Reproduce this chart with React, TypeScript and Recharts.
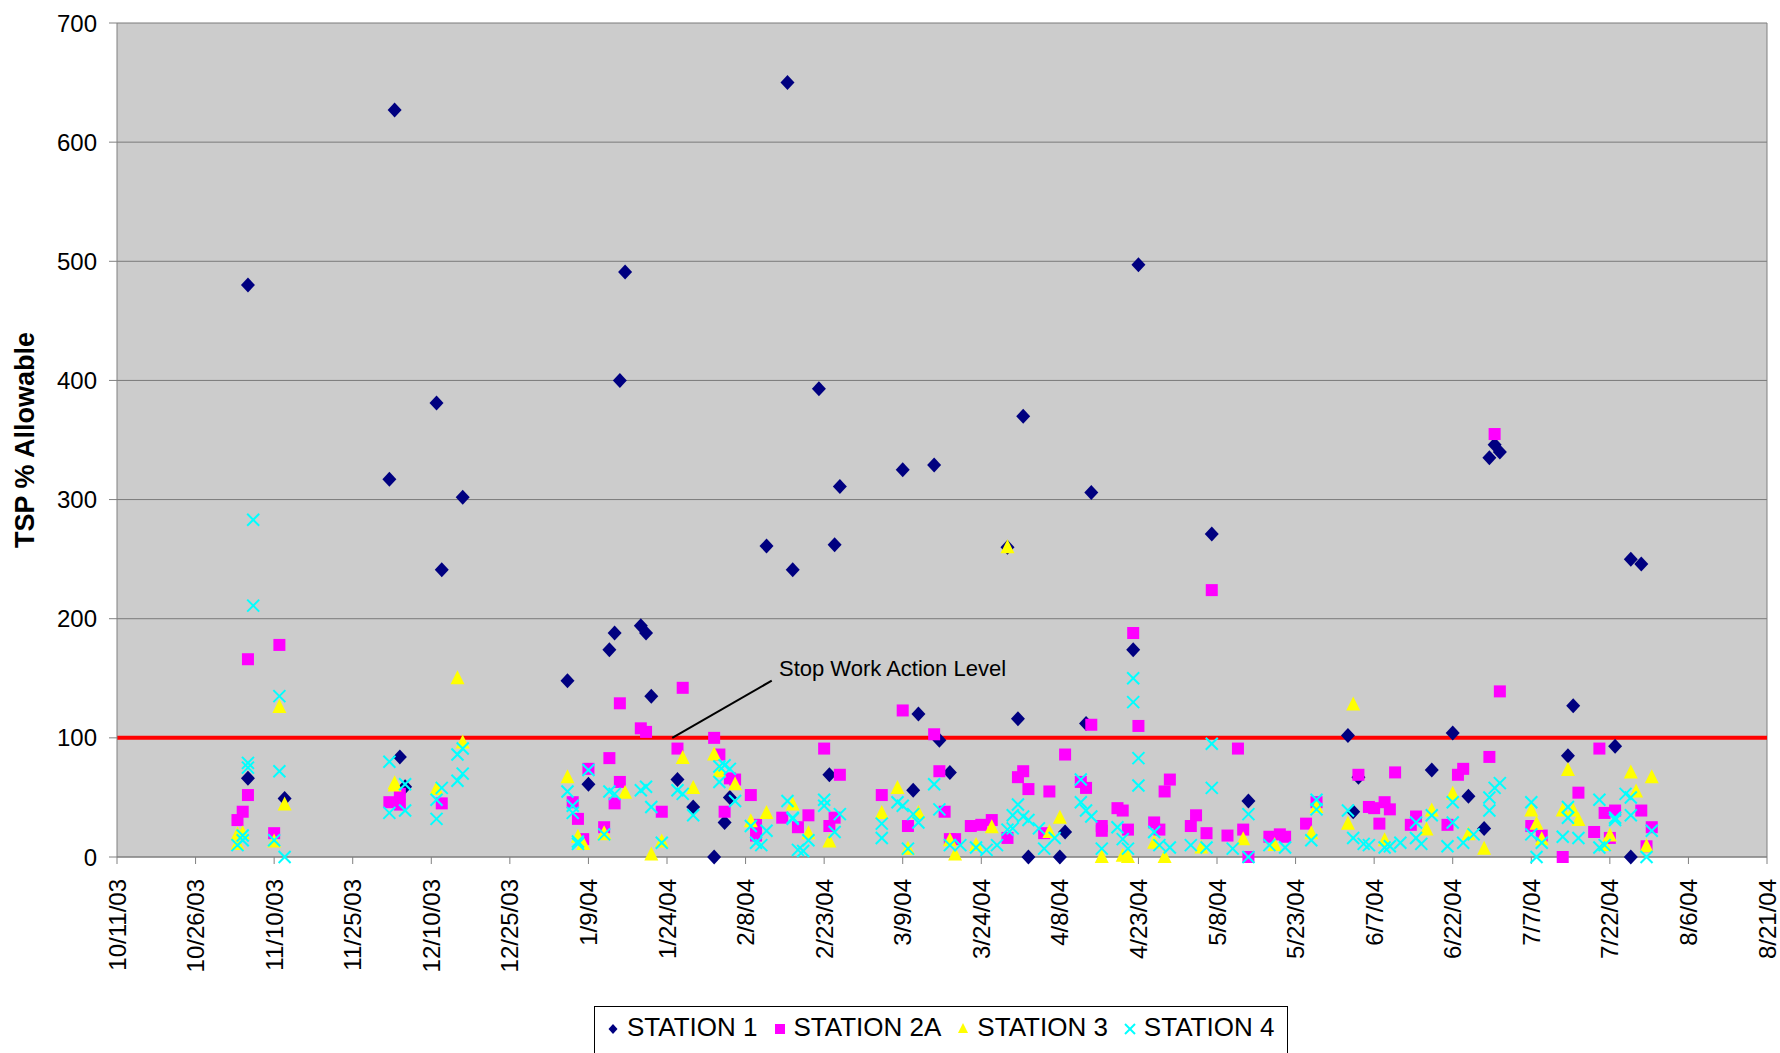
import React from 'react';
import {
  ScatterChart,
  Scatter,
  XAxis,
  YAxis,
  CartesianGrid,
  ReferenceLine,
  ReferenceDot,
  Label,
} from 'recharts';

type Reading = [string, number];

// x axis tick dates (every 15 days)
const xTickLabels = [
  '10/11/03', '10/26/03', '11/10/03', '11/25/03', '12/10/03', '12/25/03', '1/9/04', '1/24/04',
  '2/8/04', '2/23/04', '3/9/04', '3/24/04', '4/8/04', '4/23/04', '5/8/04', '5/23/04',
  '6/7/04', '6/22/04', '7/7/04', '7/22/04', '8/6/04', '8/21/04',
];
const yTicks = [0, 100, 200, 300, 400, 500, 600, 700];
const actionLevel = 100;

const station1: Reading[] = [
  ['11/5/03', 480], ['11/5/03', 66], ['11/12/03', 49], ['12/2/03', 317], ['12/3/03', 627],
  ['12/4/03', 84], ['12/5/03', 59], ['12/11/03', 381], ['12/12/03', 241], ['12/16/03', 302],
  ['1/5/04', 148], ['1/9/04', 61], ['1/13/04', 174], ['1/14/04', 188], ['1/15/04', 400],
  ['1/16/04', 491], ['1/19/04', 194], ['1/20/04', 188], ['1/21/04', 135], ['1/26/04', 65],
  ['1/29/04', 42], ['2/2/04', 0], ['2/4/04', 29], ['2/5/04', 50], ['2/12/04', 261],
  ['2/16/04', 650], ['2/17/04', 241], ['2/22/04', 393], ['2/24/04', 69], ['2/25/04', 262],
  ['2/26/04', 311], ['3/9/04', 325], ['3/11/04', 56], ['3/12/04', 120], ['3/15/04', 329],
  ['3/16/04', 98], ['3/18/04', 71], ['3/29/04', 260], ['3/31/04', 116], ['4/1/04', 370],
  ['4/2/04', 0], ['4/8/04', 0], ['4/9/04', 21], ['4/13/04', 112], ['4/14/04', 306],
  ['4/22/04', 174], ['4/23/04', 497], ['5/7/04', 271], ['5/14/04', 47], ['6/2/04', 102],
  ['6/3/04', 38], ['6/4/04', 67], ['6/18/04', 73], ['6/22/04', 104], ['6/25/04', 51],
  ['6/28/04', 24], ['6/29/04', 335], ['6/30/04', 346], ['7/1/04', 340], ['7/14/04', 85],
  ['7/15/04', 127], ['7/23/04', 93], ['7/26/04', 250], ['7/26/04', 0], ['7/28/04', 246],
];

const station2A: Reading[] = [
  ['11/3/03', 31], ['11/4/03', 38], ['11/5/03', 52], ['11/5/03', 166], ['11/10/03', 20],
  ['11/11/03', 178], ['12/2/03', 46], ['12/4/03', 44], ['12/4/03', 53], ['12/12/03', 45],
  ['1/6/04', 46], ['1/7/04', 32], ['1/8/04', 15], ['1/9/04', 74], ['1/12/04', 25],
  ['1/13/04', 83], ['1/14/04', 45], ['1/15/04', 129], ['1/15/04', 63], ['1/19/04', 108],
  ['1/20/04', 105], ['1/23/04', 38], ['1/26/04', 91], ['1/27/04', 142], ['2/2/04', 100],
  ['2/3/04', 86], ['2/4/04', 38], ['2/5/04', 66], ['2/6/04', 65], ['2/9/04', 52],
  ['2/10/04', 27], ['2/10/04', 18], ['2/15/04', 33], ['2/18/04', 25], ['2/20/04', 35],
  ['2/23/04', 91], ['2/24/04', 26], ['2/25/04', 33], ['2/26/04', 69], ['3/5/04', 52],
  ['3/9/04', 123], ['3/10/04', 26], ['3/15/04', 103], ['3/16/04', 72], ['3/17/04', 38],
  ['3/18/04', 15], ['3/19/04', 15], ['3/22/04', 26], ['3/24/04', 27], ['3/26/04', 31],
  ['3/29/04', 16], ['3/31/04', 67], ['4/1/04', 72], ['4/2/04', 57], ['4/5/04', 20],
  ['4/6/04', 55], ['4/9/04', 86], ['4/12/04', 63], ['4/13/04', 58], ['4/14/04', 111],
  ['4/16/04', 26], ['4/16/04', 22], ['4/19/04', 41], ['4/20/04', 39], ['4/21/04', 23],
  ['4/22/04', 188], ['4/23/04', 110], ['4/26/04', 29], ['4/27/04', 23], ['4/28/04', 55],
  ['4/29/04', 65], ['5/3/04', 26], ['5/4/04', 35], ['5/6/04', 20], ['5/7/04', 224],
  ['5/10/04', 18], ['5/12/04', 91], ['5/13/04', 23], ['5/14/04', 0], ['5/18/04', 17],
  ['5/20/04', 19], ['5/21/04', 17], ['5/25/04', 28], ['5/27/04', 46], ['6/4/04', 69],
  ['6/6/04', 42], ['6/7/04', 41], ['6/8/04', 28], ['6/9/04', 46], ['6/10/04', 40],
  ['6/11/04', 71], ['6/14/04', 27], ['6/15/04', 34], ['6/21/04', 27], ['6/23/04', 69],
  ['6/24/04', 74], ['6/29/04', 84], ['6/30/04', 355], ['7/1/04', 139], ['7/7/04', 26],
  ['7/9/04', 18], ['7/13/04', 0], ['7/16/04', 54], ['7/19/04', 21], ['7/20/04', 91],
  ['7/21/04', 37], ['7/22/04', 16], ['7/23/04', 39], ['7/28/04', 39], ['7/29/04', 9],
  ['7/30/04', 25],
];

const station3: Reading[] = [
  ['11/3/03', 19], ['11/3/03', 11], ['11/4/03', 20], ['11/10/03', 13], ['11/11/03', 126],
  ['11/12/03', 44], ['12/3/03', 62], ['12/3/03', 60], ['12/11/03', 57], ['12/15/03', 150],
  ['12/16/03', 96], ['1/5/04', 67], ['1/7/04', 17], ['1/8/04', 11], ['1/12/04', 20],
  ['1/12/04', 19], ['1/16/04', 54], ['1/21/04', 2], ['1/23/04', 13], ['1/27/04', 83],
  ['1/29/04', 58], ['2/2/04', 86], ['2/3/04', 72], ['2/6/04', 61], ['2/9/04', 30],
  ['2/12/04', 37], ['2/17/04', 44], ['2/20/04', 20], ['2/24/04', 13], ['3/5/04', 37],
  ['3/8/04', 58], ['3/10/04', 7], ['3/12/04', 37], ['3/18/04', 14], ['3/19/04', 2],
  ['3/23/04', 10], ['3/26/04', 25], ['3/29/04', 260], ['4/6/04', 21], ['4/8/04', 33],
  ['4/16/04', 0], ['4/20/04', 1], ['4/21/04', 0], ['4/26/04', 12], ['4/28/04', 0],
  ['5/5/04', 8], ['5/13/04', 15], ['5/19/04', 10], ['5/26/04', 20], ['5/27/04', 42],
  ['6/2/04', 28], ['6/3/04', 128], ['6/9/04', 14], ['6/17/04', 23], ['6/18/04', 39],
  ['6/22/04', 53], ['6/25/04', 19], ['6/28/04', 7], ['7/7/04', 39], ['7/8/04', 28],
  ['7/9/04', 15], ['7/13/04', 39], ['7/14/04', 73], ['7/15/04', 39], ['7/16/04', 31],
  ['7/21/04', 10], ['7/22/04', 18], ['7/26/04', 71], ['7/27/04', 55], ['7/29/04', 9],
  ['7/30/04', 67],
];

const station4: Reading[] = [
  ['11/3/03', 10], ['11/4/03', 18], ['11/4/03', 14], ['11/5/03', 79], ['11/5/03', 75],
  ['11/6/03', 283], ['11/6/03', 211], ['11/10/03', 14], ['11/11/03', 135], ['11/11/03', 72],
  ['11/12/03', 0], ['12/2/03', 80], ['12/2/03', 37], ['12/5/03', 61], ['12/5/03', 39],
  ['12/11/03', 32], ['12/11/03', 48], ['12/12/03', 58], ['12/15/03', 86], ['12/15/03', 64],
  ['12/16/03', 91], ['12/16/03', 70], ['1/5/04', 55], ['1/6/04', 37], ['1/6/04', 43],
  ['1/7/04', 13], ['1/7/04', 11], ['1/9/04', 73], ['1/12/04', 19], ['1/13/04', 55],
  ['1/14/04', 53], ['1/19/04', 56], ['1/20/04', 59], ['1/21/04', 42], ['1/23/04', 12],
  ['1/26/04', 56], ['1/27/04', 53], ['1/29/04', 35], ['2/3/04', 76], ['2/3/04', 63],
  ['2/4/04', 77], ['2/5/04', 74], ['2/6/04', 47], ['2/9/04', 26], ['2/10/04', 12],
  ['2/11/04', 10], ['2/12/04', 22], ['2/16/04', 47], ['2/17/04', 33], ['2/17/04', 32],
  ['2/18/04', 6], ['2/19/04', 5], ['2/20/04', 14], ['2/23/04', 48], ['2/23/04', 43],
  ['2/25/04', 21], ['2/26/04', 36], ['3/5/04', 28], ['3/5/04', 16], ['3/8/04', 46],
  ['3/9/04', 43], ['3/10/04', 7], ['3/11/04', 36], ['3/12/04', 29], ['3/15/04', 61],
  ['3/16/04', 40], ['3/18/04', 10], ['3/20/04', 10], ['3/23/04', 8], ['3/25/04', 6],
  ['3/27/04', 10], ['3/29/04', 23], ['3/30/04', 35], ['3/30/04', 24], ['3/31/04', 44],
  ['4/1/04', 34], ['4/2/04', 31], ['4/4/04', 24], ['4/5/04', 7], ['4/7/04', 16],
  ['4/12/04', 65], ['4/12/04', 46], ['4/13/04', 39], ['4/14/04', 34], ['4/16/04', 7],
  ['4/19/04', 25], ['4/20/04', 15], ['4/21/04', 7], ['4/22/04', 150], ['4/22/04', 130],
  ['4/23/04', 83], ['4/23/04', 60], ['4/26/04', 21], ['4/27/04', 10], ['4/29/04', 8],
  ['5/3/04', 10], ['5/6/04', 8], ['5/7/04', 95], ['5/7/04', 58], ['5/11/04', 7],
  ['5/14/04', 0], ['5/14/04', 36], ['5/18/04', 10], ['5/21/04', 8], ['5/26/04', 14],
  ['5/27/04', 48], ['5/27/04', 40], ['6/2/04', 39], ['6/3/04', 16], ['6/5/04', 11],
  ['6/6/04', 10], ['6/9/04', 8], ['6/10/04', 9], ['6/12/04', 12], ['6/15/04', 29],
  ['6/15/04', 16], ['6/16/04', 11], ['6/18/04', 35], ['6/21/04', 9], ['6/22/04', 46],
  ['6/22/04', 29], ['6/24/04', 12], ['6/26/04', 19], ['6/29/04', 50], ['6/29/04', 39],
  ['6/30/04', 58], ['7/1/04', 62], ['7/7/04', 46], ['7/7/04', 19], ['7/8/04', 0],
  ['7/9/04', 12], ['7/13/04', 17], ['7/14/04', 42], ['7/14/04', 33], ['7/16/04', 16],
  ['7/20/04', 48], ['7/20/04', 8], ['7/21/04', 10], ['7/23/04', 33], ['7/23/04', 31],
  ['7/25/04', 53], ['7/26/04', 50], ['7/26/04', 35], ['7/29/04', 0], ['7/30/04', 22],
];

const FONT = '"Liberation Sans", Arial, Helvetica, sans-serif';

const parseDate = (s: string) => {
  const [m, d, y] = s.split('/').map(Number);
  return Date.UTC(2000 + y, m - 1, d);
};

const formatDate = (t: number) => {
  const d = new Date(t);
  return `${d.getUTCMonth() + 1}/${d.getUTCDate()}/${String(d.getUTCFullYear()).slice(2)}`;
};

const toPoints = (rows: Reading[]) => rows.map(([date, value]) => ({ x: parseDate(date), y: value }));

const xTicks = xTickLabels.map(parseDate);
const xMin = xTicks[0];
const xMax = xTicks[xTicks.length - 1];

// marker shapes, same look as the old spreadsheet chart
const Diamond = ({ cx, cy, s = 7.5 }: any) => (
  <polygon points={`${cx},${cy - s} ${cx + s - 0.5},${cy} ${cx},${cy + s} ${cx - s + 0.5},${cy}`} fill="#000080" />
);
const Square = ({ cx, cy, s = 6 }: any) => (
  <rect x={cx - s} y={cy - s} width={s * 2} height={s * 2} fill="#FF00FF" />
);
const Triangle = ({ cx, cy, s = 7 }: any) => (
  <polygon points={`${cx},${cy - s - 1} ${cx + s},${cy + s - 1} ${cx - s},${cy + s - 1}`} fill="#FFFF00" />
);
const Cross = ({ cx, cy, s = 6 }: any) => (
  <g stroke="#00FFFF" strokeWidth={2}>
    <line x1={cx - s} y1={cy - s} x2={cx + s} y2={cy + s} />
    <line x1={cx - s} y1={cy + s} x2={cx + s} y2={cy - s} />
  </g>
);

const series = [
  { name: 'STATION 1', data: station1, Shape: Diamond },
  { name: 'STATION 2A', data: station2A, Shape: Square },
  { name: 'STATION 3', data: station3, Shape: Triangle },
  { name: 'STATION 4', data: station4, Shape: Cross },
];

const DateTick = ({ x, y, payload }: any) => (
  <text
    x={x}
    y={y + 13}
    transform={`rotate(-90, ${x}, ${y + 13})`}
    textAnchor="end"
    dominantBaseline="central"
    fontSize={24}
    fontFamily={FONT}
    fill="#000"
  >
    {formatDate(payload.value)}
  </text>
);

const YTitle = ({ viewBox }: any) => {
  const cx = viewBox.x + 25;
  const cy = viewBox.y + viewBox.height / 2;
  return (
    <text
      x={cx}
      y={cy}
      transform={`rotate(-90, ${cx}, ${cy})`}
      textAnchor="middle"
      dominantBaseline="central"
      fontSize={27}
      fontWeight="bold"
      fontFamily={FONT}
      fill="#000"
    >
      TSP % Allowable
    </text>
  );
};

const ActionText = ({ cx, cy }: any) => (
  <text x={cx + 2} y={cy} dominantBaseline="central" fontSize={22} fontFamily={FONT} fill="#000">
    Stop Work Action Level
  </text>
);

export default function App() {
  return (
    <div
      style={{
        position: 'absolute',
        left: 0,
        top: 0,
        width: 1780,
        height: 1053,
        overflow: 'hidden',
        background: '#fff',
        fontFamily: FONT,
      }}
    >
      <ScatterChart width={1780} height={1053} margin={{ top: 23, right: 13, left: 0, bottom: 0 }}>
        <CartesianGrid horizontal vertical={false} stroke="#7a7a7a" fill="#CCCCCC" fillOpacity={1} />
        <XAxis
          type="number"
          dataKey="x"
          domain={[xMin, xMax]}
          ticks={xTicks}
          interval={0}
          height={196}
          tick={<DateTick />}
          tickSize={7}
          stroke="#808080"
          allowDataOverflow
        />
        <YAxis
          type="number"
          dataKey="y"
          domain={[0, 700]}
          ticks={yTicks}
          width={117}
          tickSize={8}
          tickMargin={12}
          stroke="#808080"
          tick={{ fill: '#000', fontSize: 24, fontFamily: FONT }}
        >
          <Label content={<YTitle />} />
        </YAxis>
        <ReferenceLine x={xMax} stroke="#808080" />
        {series.map(({ name, data, Shape }) => (
          <Scatter
            key={name}
            name={name}
            data={toPoints(data)}
            shape={(p: any) => <Shape cx={p.cx} cy={p.cy} />}
            isAnimationActive={false}
          />
        ))}
        <ReferenceLine y={actionLevel} stroke="#FF0000" strokeWidth={4} />
        <ReferenceLine
          segment={[
            { x: parseDate('1/25/04'), y: actionLevel },
            { x: parseDate('2/13/04'), y: 148 },
          ]}
          stroke="#000"
          strokeWidth={2}
        />
        <ReferenceDot x={parseDate('2/14/04')} y={158} shape={(p: any) => <ActionText cx={p.cx} cy={p.cy} />} />
      </ScatterChart>

      <div
        style={{
          position: 'absolute',
          left: 594,
          top: 1006,
          width: 694,
          height: 60,
          border: '1px solid #000',
          background: '#fff',
          display: 'flex',
          alignItems: 'flex-start',
          paddingTop: 6,
          paddingLeft: 11,
          boxSizing: 'border-box',
          gap: 15,
          fontSize: 26,
          color: '#000',
        }}
      >
        {series.map(({ name, Shape }) => (
          <div key={name} style={{ display: 'flex', alignItems: 'center', gap: 7, lineHeight: '28px' }}>
            <svg width={14} height={16} style={{ overflow: 'visible' }}>
              <Shape cx={7} cy={10} s={5} />
            </svg>
            <span>{name}</span>
          </div>
        ))}
      </div>
    </div>
  );
}
